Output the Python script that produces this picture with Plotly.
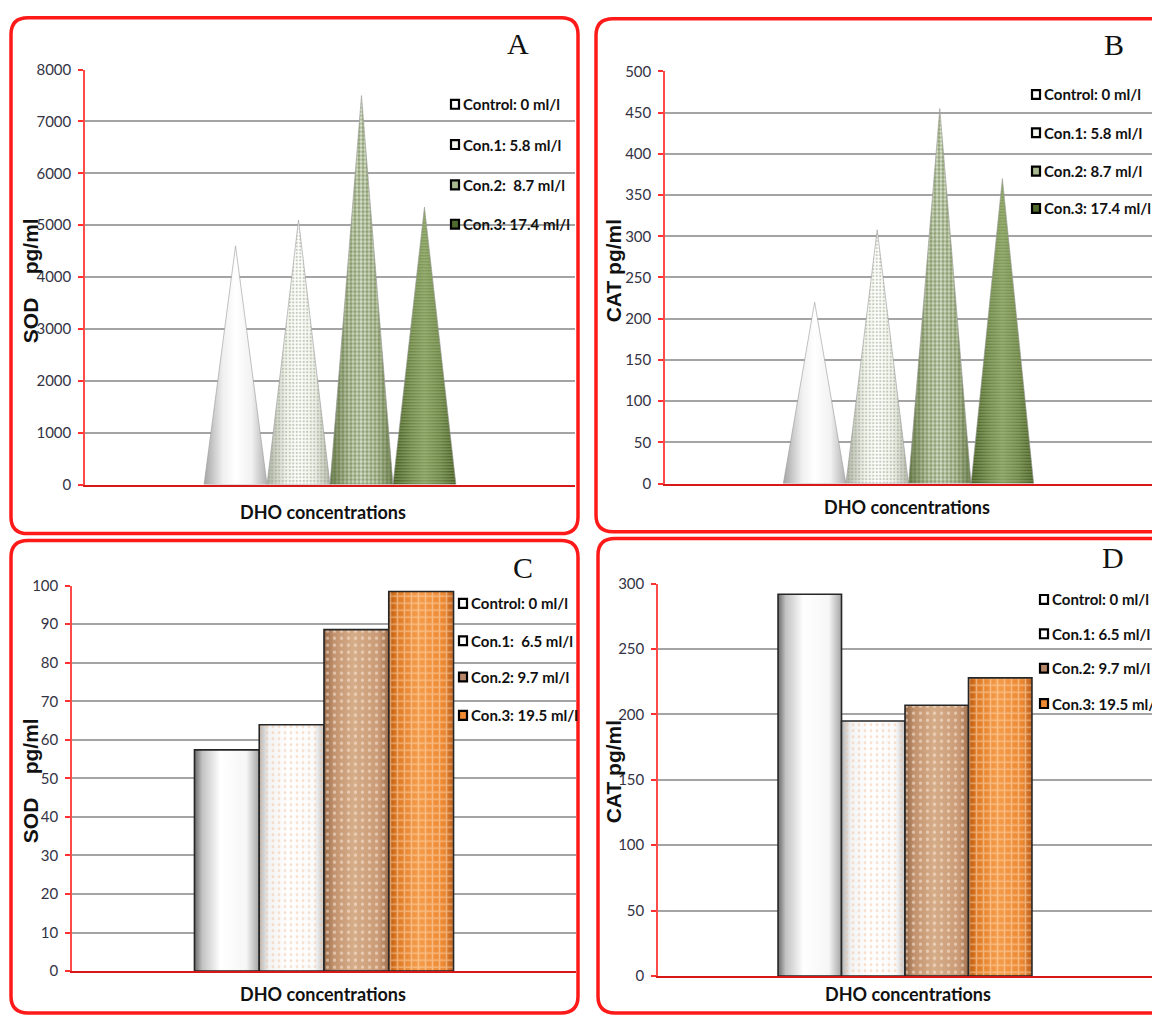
import plotly.graph_objects as go

W, H = 1152, 1023

# ---------------- data ----------------
series_labels_a = ["Control: 0 ml/l", "Con.1: 5.8 ml/l", "Con.2:  8.7 ml/l", "Con.3: 17.4 ml/l"]
series_labels_b = ["Control: 0 ml/l", "Con.1: 5.8 ml/l", "Con.2: 8.7 ml/l", "Con.3: 17.4 ml/l"]
series_labels_c = ["Control: 0 ml/l", "Con.1:  6.5 ml/l", "Con.2: 9.7 ml/l", "Con.3: 19.5 ml/l"]
series_labels_d = ["Control: 0 ml/l", "Con.1: 6.5 ml/l", "Con.2: 9.7 ml/l", "Con.3: 19.5 ml/l"]

sod_a = [4600, 5100, 7500, 5350]   # SOD pg/ml (cones)
cat_b = [220, 308, 455, 370]       # CAT pg/ml (cones)
sod_c = [57.4, 63.9, 88.6, 98.5]   # SOD pg/ml (cylinders)
cat_d = [292, 195, 207, 228]       # CAT pg/ml (cylinders)

ticks_a = [0, 1000, 2000, 3000, 4000, 5000, 6000, 7000, 8000]
ticks_b = [0, 50, 100, 150, 200, 250, 300, 350, 400, 450, 500]
ticks_c = [0, 10, 20, 30, 40, 50, 60, 70, 80, 90, 100]
ticks_d = [0, 50, 100, 150, 200, 250, 300]

x_title = "DHO concentrations"
y_title_a = "SOD\u00a0\u00a0\u00a0 pg/ml"
y_title_b = "CAT pg/ml"
y_title_c = "SOD\u00a0\u00a0\u00a0 pg/ml"
y_title_d = "CAT pg/ml"
panel_letters = ["A", "B", "C", "D"]

# ---------------- styles ----------------
NARROW = "Lato, Roboto, sans-serif"
ARIAL = "Liberation Sans, Arial, sans-serif"
SERIF = "Liberation Serif, Times New Roman, serif"
RED = "#ff1a1a"
MARK_W = 0.1285  # width of one series mark in category units

cone_styles = [
    dict(scale=[[0, "#a4a4a4"], [0.3, "#f0f0f0"], [0.5, "#ffffff"], [0.75, "#f2f2f2"], [1, "#b0b0b0"]],
         pattern=None, swatch="#ffffff"),
    dict(scale=[[0, "#aeb2a6"], [0.3, "#f2f4ee"], [0.5, "#ffffff"], [0.75, "#f0f2ec"], [1, "#b6baae"]],
         pattern=dict(shape=".", fgcolor="#8e9a78", size=3.5, solidity=0.35), swatch="#f2f4ee"),
    dict(scale=[[0, "#74845a"], [0.3, "#c6d0b4"], [0.5, "#dde4d2"], [0.75, "#c4ceb2"], [1, "#78885e"]],
         pattern=dict(shape=".", fgcolor="#4c6626", size=4, solidity=0.6), swatch="#a9b98f"),
    dict(scale=[[0, "#435b20"], [0.3, "#718a4a"], [0.5, "#869e5e"], [0.75, "#6e8646"], [1, "#455d22"]],
         pattern=dict(shape="-", fgcolor="#c3d2a8", size=3, solidity=0.3), swatch="#4f6a2c"),
]

bar_styles = [
    dict(scale=[[0, "#6a6a6a"], [0.12, "#c2c2c2"], [0.4, "#ffffff"], [0.8, "#f6f6f6"], [1, "#a4a4a4"]],
         pattern=None, swatch="#ffffff"),
    dict(scale=[[0, "#b4b4b4"], [0.15, "#f3f3f3"], [0.45, "#ffffff"], [0.85, "#fafafa"], [1, "#c6c6c6"]],
         pattern=dict(shape=".", fgcolor="#efc09a", size=6, solidity=0.18), swatch="#ffffff"),
    dict(scale=[[0, "#956846"], [0.15, "#c2926e"], [0.45, "#d6ad89"], [0.85, "#ca9a76"], [1, "#a1714e"]],
         pattern=dict(shape=".", fgcolor="#fff2e6", size=7, solidity=0.18), swatch="#b8876a"),
    dict(scale=[[0, "#b4560f"], [0.12, "#de7822"], [0.45, "#f59c4a"], [0.85, "#ec8832"], [1, "#bc5e18"]],
         pattern=dict(shape="+", fgcolor="#ffe3c6", size=7, solidity=0.4), swatch="#f08a32"),
]

# pixel layout of each panel: plot box, border box, label anchors
panels = [
    dict(kind="cone", values=sod_a, ticks=ticks_a, labels=series_labels_a, ytitle=y_title_a,
         plot=(85, 60.7, 575, 483), border=(11, 8, 578, 533),
         letter=(518, 34), ytitle_pos=(30, 276), xtitle_pos=(323, 511),
         legend_x=451, legend_rows=[96, 137, 178, 218]),
    dict(kind="cone", values=cat_b, ticks=ticks_b, labels=series_labels_b, ytitle=y_title_b,
         plot=(665, 62.5, 1152, 482), border=(596, 9, 1175, 531),
         letter=(1114, 35), ytitle_pos=(613, 266), xtitle_pos=(907, 506),
         legend_x=1032, legend_rows=[86, 125, 164, 202]),
    dict(kind="bar", values=sod_c, ticks=ticks_c, labels=series_labels_c, ytitle=y_title_c,
         plot=(72, 586, 576, 978.3), border=(11, 540, 578, 1021),
         letter=(523, 567), ytitle_pos=(30, 785), xtitle_pos=(323, 1002),
         legend_x=459, legend_rows=[604, 642, 679, 718]),
    dict(kind="bar", values=cat_d, ticks=ticks_d, labels=series_labels_d, ytitle=y_title_d,
         plot=(658, 584, 1152, 983.3), border=(598, 538, 1175, 1021),
         letter=(1113, 557), ytitle_pos=(613, 776), xtitle_pos=(908, 1002),
         legend_x=1040, legend_rows=[600, 635, 670, 706]),
]


def px_x(x):
    return x / W


def px_y(y):
    return 1 - y / H


def rounded_path(x0, y0, x1, y1, r):
    pts = [
        f"M {px_x(x0 + r)},{px_y(y0)}",
        f"L {px_x(x1 - r)},{px_y(y0)}",
        f"Q {px_x(x1)},{px_y(y0)} {px_x(x1)},{px_y(y0 + r)}",
        f"L {px_x(x1)},{px_y(y1 - r)}",
        f"Q {px_x(x1)},{px_y(y1)} {px_x(x1 - r)},{px_y(y1)}",
        f"L {px_x(x0 + r)},{px_y(y1)}",
        f"Q {px_x(x0)},{px_y(y1)} {px_x(x0)},{px_y(y1 - r)}",
        f"L {px_x(x0)},{px_y(y0 + r)}",
        f"Q {px_x(x0)},{px_y(y0)} {px_x(x0 + r)},{px_y(y0)}",
        "Z",
    ]
    return " ".join(pts)


fig = go.Figure()
shapes = []
annotations = []
layout_axes = {}

for i, p in enumerate(panels):
    n = i + 1
    xa = "x" if n == 1 else f"x{n}"
    ya = "y" if n == 1 else f"y{n}"
    styles = cone_styles if p["kind"] == "cone" else bar_styles
    k = len(p["values"])

    for j, v in enumerate(p["values"]):
        c = (j - (k - 1) / 2) * MARK_W
        left, right = c - MARK_W / 2, c + MARK_W / 2
        if p["kind"] == "cone":
            xs = [left, c, right, left]
            ys = [0, v, 0, 0]
            outline = dict(color="#9a9a9a", width=0.6)
        else:
            xs = [left, left, right, right, left]
            ys = [0, v, v, 0, 0]
            outline = dict(color="#262626", width=1.6)
        st = styles[j]
        fig.add_trace(go.Scatter(
            x=xs, y=ys, xaxis=xa, yaxis=ya, mode="lines", fill="toself",
            fillgradient=dict(type="horizontal", colorscale=st["scale"]),
            line=dict(width=0), hoverinfo="skip", showlegend=False,
        ))
        if st["pattern"] is not None:
            pat = dict(st["pattern"])
            pat["bgcolor"] = "rgba(0,0,0,0)"
            fig.add_trace(go.Scatter(
                x=xs, y=ys, xaxis=xa, yaxis=ya, mode="lines", fill="toself",
                fillcolor="rgba(0,0,0,0)", fillpattern=pat,
                line=dict(width=0), hoverinfo="skip", showlegend=False,
            ))
        fig.add_trace(go.Scatter(
            x=xs, y=ys, xaxis=xa, yaxis=ya, mode="lines", line=outline,
            hoverinfo="skip", showlegend=False, name=p["labels"][j],
        ))

    x0, y0, x1, y1 = p["plot"]
    layout_axes["xaxis" if n == 1 else f"xaxis{n}"] = dict(
        domain=[px_x(x0), px_x(x1)], range=[-0.5, 0.5], anchor=ya,
        showgrid=False, zeroline=False, showticklabels=False, ticks="",
        showline=True, linecolor="#d81818", linewidth=2, fixedrange=True,
    )
    layout_axes["yaxis" if n == 1 else f"yaxis{n}"] = dict(
        domain=[px_y(y1), px_y(y0)], range=[0, p["ticks"][-1]], anchor=xa,
        tickvals=p["ticks"], ticktext=[str(t) for t in p["ticks"]],
        showgrid=True, gridcolor="#a4a4a4", gridwidth=2, zeroline=False,
        showline=True, linecolor="#ff4a4a", linewidth=1.5,
        ticks="outside", ticklen=5, tickwidth=1.5, tickcolor="#ff3030",
        ticklabelstandoff=4,
        tickfont=dict(family=NARROW, size=15, color="#333344"), fixedrange=True,
    )

    # panel border
    bx0, by0, bx1, by1 = p["border"]
    shapes.append(dict(type="path", xref="paper", yref="paper",
                       path=rounded_path(bx0, by0, bx1, by1, 17),
                       line=dict(color=RED, width=3.5), layer="above"))

    # panel letter
    lx, ly = p["letter"]
    annotations.append(dict(x=px_x(lx), y=px_y(ly), xref="paper", yref="paper",
                            text=panel_letters[i], showarrow=False,
                            font=dict(family=SERIF, size=30, color="#111111"),
                            xanchor="center", yanchor="middle"))
    # axis titles
    tx, ty = p["ytitle_pos"]
    annotations.append(dict(x=px_x(tx), y=px_y(ty), xref="paper", yref="paper",
                            text=f"<b>{p['ytitle']}</b>", showarrow=False, textangle=-90,
                            font=dict(family=ARIAL, size=21, color="#111111"),
                            xanchor="center", yanchor="middle"))
    tx, ty = p["xtitle_pos"]
    annotations.append(dict(x=px_x(tx), y=px_y(ty), xref="paper", yref="paper",
                            text=f"<b>{x_title}</b>", showarrow=False,
                            font=dict(family=NARROW, size=18, color="#111111"),
                            xanchor="center", yanchor="middle"))

    # legend: bordered swatch + label
    for j, (lab, ry) in enumerate(zip(p["labels"], p["legend_rows"])):
        sx = p["legend_x"]
        shapes.append(dict(type="rect", xref="paper", yref="paper",
                           x0=px_x(sx), x1=px_x(sx + 8), y0=px_y(ry + 4.5), y1=px_y(ry - 4.5),
                           fillcolor=styles[j]["swatch"], line=dict(color="#000000", width=2.2),
                           layer="above"))
        annotations.append(dict(x=px_x(sx + 10), y=px_y(ry), xref="paper", yref="paper",
                                text=f"<b>{lab}</b>", showarrow=False,
                                font=dict(family=NARROW, size=15, color="#111111"),
                                xanchor="left", yanchor="middle"))

fig.update_layout(
    width=W, height=H, autosize=False,
    margin=dict(l=0, r=0, t=0, b=0),
    paper_bgcolor="#ffffff", plot_bgcolor="rgba(0,0,0,0)",
    showlegend=False, shapes=shapes, annotations=annotations,
    **layout_axes,
)

fig.write_html("out.html", config={"displayModeBar": False})
